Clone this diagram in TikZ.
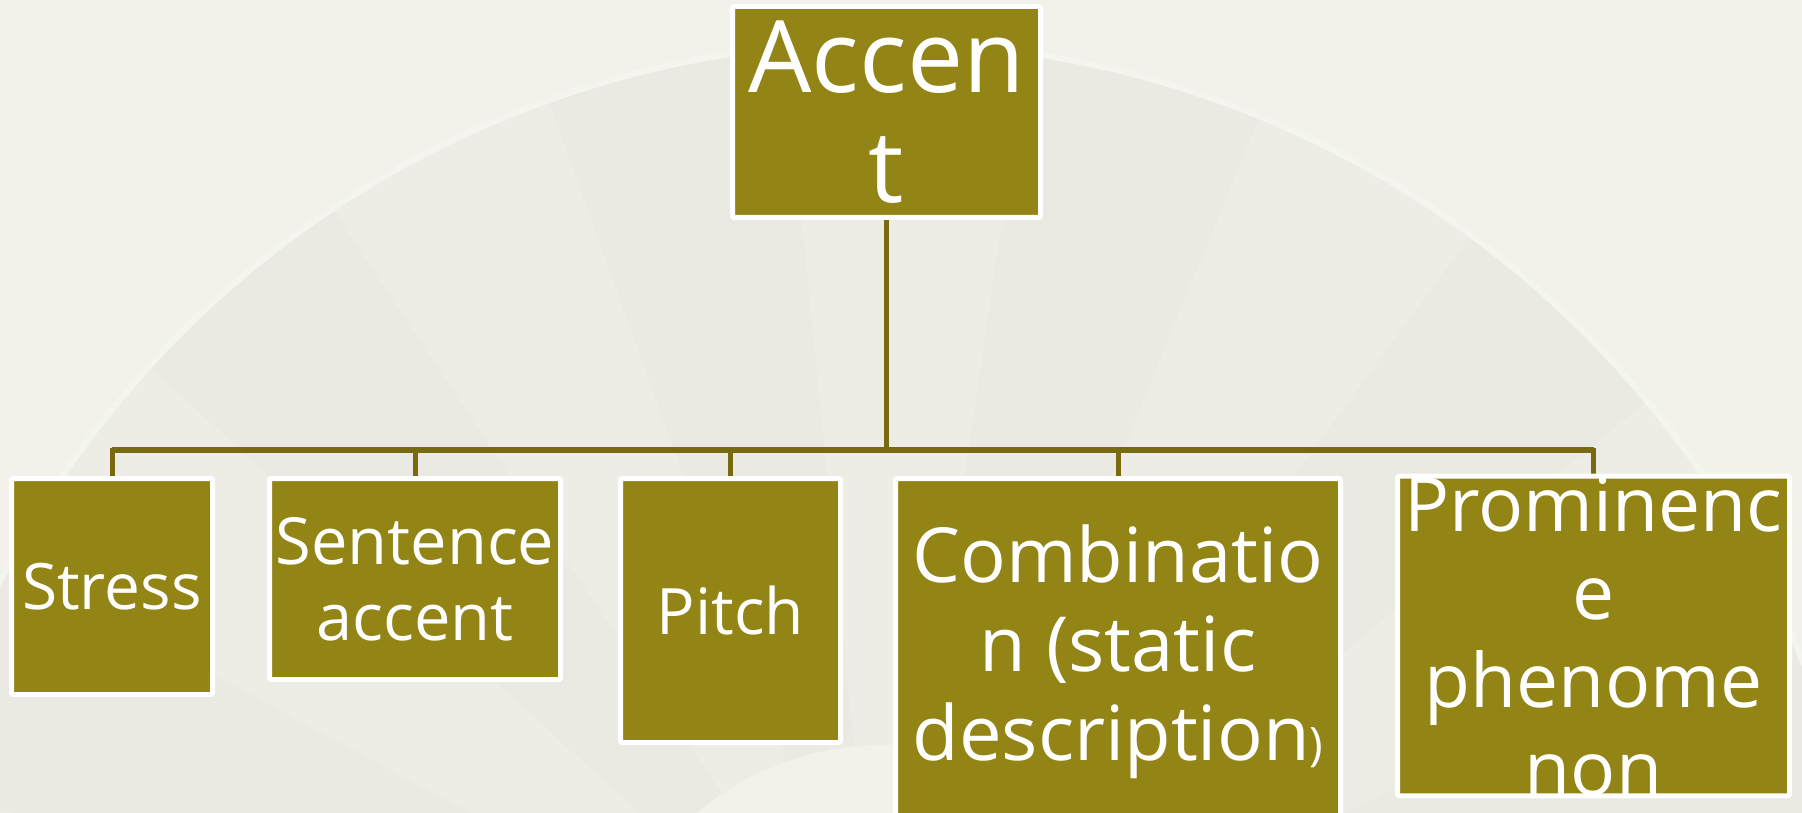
\documentclass[tikz,border=0pt]{standalone}
\usepackage{fontspec}
\setmainfont{Open Sans}
\definecolor{accfill}{HTML}{938416}
\definecolor{accline}{HTML}{786A10}
\definecolor{bgc}{HTML}{F2F2EB}
\definecolor{fanA}{HTML}{EDEDE6}
\definecolor{fanB}{HTML}{EAEAE3}
\definecolor{rimc}{HTML}{F5F5EF}
\pgfdeclarelayer{back}
\pgfdeclarelayer{wires}
\pgfsetlayers{back,wires,main}
\begin{document}
\begin{tikzpicture}[x=1pt,y=-1pt,
  box/.style={draw=white, line width=5pt, fill=accfill, text=white,
    align=center, inner sep=0pt, rounded corners=1.5pt},
  conn/.style={draw=accline, line width=5pt},
  bigtxt/.style={font=\fontsize{100}{110}\selectfont},
  midtxt/.style={font=\fontsize{64}{76}\selectfont},
  lrgtxt/.style={font=\fontsize{76}{89}\selectfont},
]
\useasboundingbox (0,0) rectangle (1802,813);
\begin{pgfonlayer}{back}
  \fill[bgc] (0,0) rectangle (1802,813);
  \foreach \a [count=\i] in {-2.3,11.7,25.7,39.7,53.7,67.7,81.7,95.7,109.7,123.7,137.7,151.7,165.7} {
    \pgfmathparse{isodd(\i)}
    \ifnum\pgfmathresult=1 \def\fc{fanA}\else\def\fc{fanB}\fi
    \fill[\fc] plot[domain=\a:\a+14, samples=12] ({883+990*cos(\x)},{1035-990*sin(\x)})
      -- plot[domain=\a+14:\a, samples=8] ({883+290*cos(\x)},{1035-290*sin(\x)}) -- cycle;
  }
  \draw[rimc, line width=6pt] plot[domain=-5:185, samples=90] ({883+993*cos(\x)},{1035-993*sin(\x)});
\end{pgfonlayer}

\node[box, bigtxt, minimum width=308pt, minimum height=211pt] (acc) at (886.5,112) {Accen\\t};
\node[box, midtxt, minimum width=201pt, minimum height=216pt] (stress) at (112,586.5) {Stress};
\node[box, midtxt, font=\fontsize{65}{76}\selectfont, minimum width=291pt, minimum height=201pt] (sent) at (415,579) {Sentence\\accent};
\node[box, midtxt, minimum width=220pt, minimum height=264pt] (pitch) at (730.5,610.5) {Pitch};
\node[box, lrgtxt, minimum width=445pt, minimum height=347pt] (comb) at (1118,652)
  {Combinatio\\n (static\\description{\fontsize{46}{46}\selectfont)}};
\node[box, lrgtxt, font=\fontsize{75}{88}\selectfont, minimum width=392pt, minimum height=315pt] (prom) at (1593.5,636)
  {Prominenc\\e\\phenome\\non};

\coordinate (j) at (886.5,450);
\begin{pgfonlayer}{wires}
  \draw[conn] (acc.south) -- (j);
  \draw[conn, line width=6pt] (stress.north |- j) -- (prom.north |- j);
  \foreach \n in {stress,sent,pitch,comb,prom}
    \draw[conn] (j) -| (\n.north);
\end{pgfonlayer}
\end{tikzpicture}
\end{document}
